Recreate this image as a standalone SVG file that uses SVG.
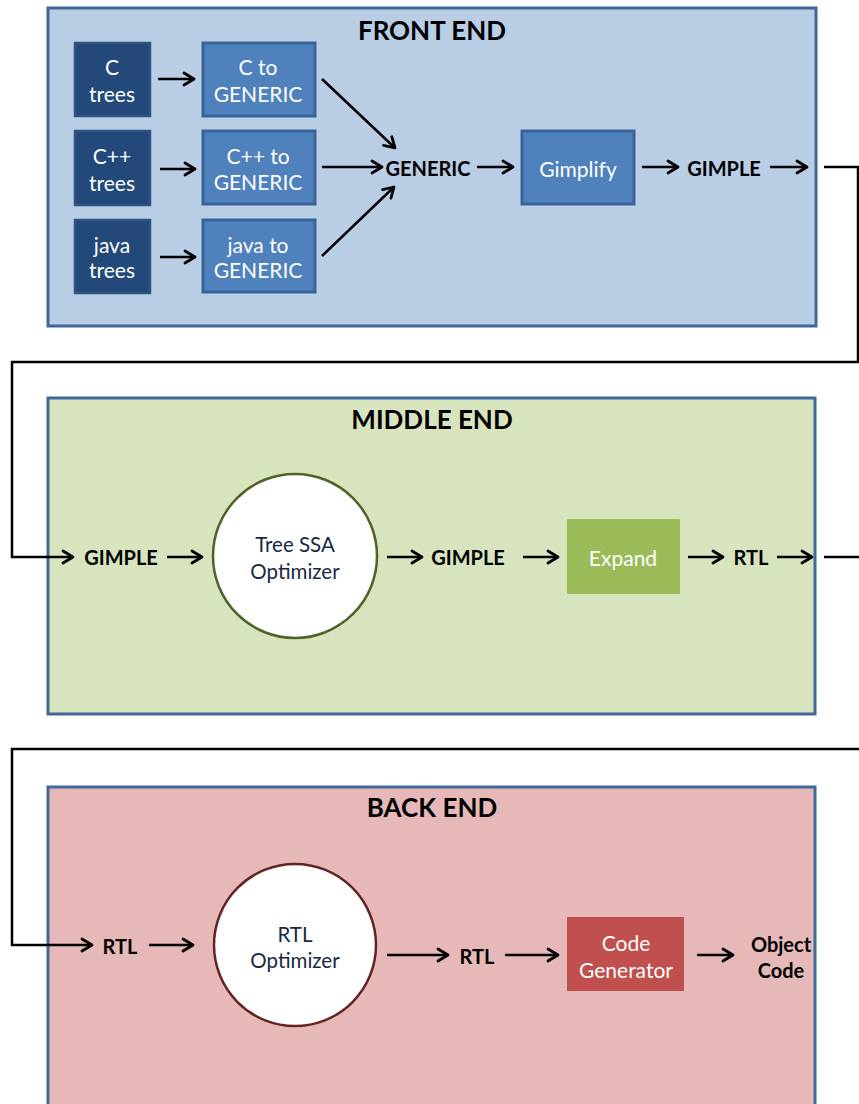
<svg xmlns="http://www.w3.org/2000/svg" width="859" height="1104" viewBox="0 0 859 1104">
<style>
.panel{stroke:#41689B;stroke-width:3}
.title{font-family:Lato,"Liberation Sans",sans-serif;font-weight:bold;font-size:26px;fill:#000;text-anchor:middle}
.lbl{font-family:Lato,"Liberation Sans",sans-serif;font-weight:bold;font-size:20px;fill:#000;text-anchor:middle;dominant-baseline:central}
.btxt{font-family:Lato,"Liberation Sans",sans-serif;font-size:21px;fill:#fff;text-anchor:middle;dominant-baseline:central}
.ctxt{font-family:Lato,"Liberation Sans",sans-serif;font-size:20.5px;fill:#1a2a40;text-anchor:middle;dominant-baseline:central}
.dark{fill:#23497B;stroke:#2F5584;stroke-width:2.5}
.mid{fill:#4F81BD;stroke:#3A6399;stroke-width:3}
.conn{fill:none;stroke:#000;stroke-width:2.5}
</style>
<defs>
<marker id="ah" markerUnits="userSpaceOnUse" markerWidth="16" markerHeight="16" viewBox="0 0 16 16" refX="13" refY="8" orient="auto">
<path d="M3,2 L13,8 L3,14" fill="none" stroke="#000" stroke-width="2.8" stroke-linecap="round" stroke-linejoin="round"/>
</marker>
</defs>

<g id="front-end">
<rect class="panel" x="48" y="8" width="768" height="318" fill="#B9CDE5"/>
<text class="title" x="432" y="40">FRONT END</text>
</g>
<g id="middle-end">
<rect class="panel" x="48" y="398" width="767" height="316" fill="#D7E4BD"/>
<text class="title" x="432" y="429">MIDDLE END</text>
</g>
<g id="back-end">
<rect class="panel" x="48" y="787" width="767" height="330" fill="#E6B9B8"/>
<text class="title" x="432" y="817">BACK END</text>
</g>

<g id="c-trees"><rect class="dark" x="75" y="43" width="75" height="73"/><text class="btxt" x="112" y="66">C</text><text class="btxt" x="112" y="93">trees</text></g>
<g id="cpp-trees"><rect class="dark" x="75" y="131" width="75" height="74"/><text class="btxt" x="112" y="155">C++</text><text class="btxt" x="112" y="182">trees</text></g>
<g id="java-trees"><rect class="dark" x="75" y="220" width="75" height="73"/><text class="btxt" x="112" y="244">java</text><text class="btxt" x="112" y="269">trees</text></g>

<g id="c-to-generic"><rect class="mid" x="203" y="43" width="112" height="73"/><text class="btxt" x="258" y="66">C to</text><text class="btxt" x="258" y="93">GENERIC</text></g>
<g id="cpp-to-generic"><rect class="mid" x="203" y="131" width="112" height="73"/><text class="btxt" x="258" y="155">C++ to</text><text class="btxt" x="258" y="181">GENERIC</text></g>
<g id="java-to-generic"><rect class="mid" x="203" y="220" width="112" height="72"/><text class="btxt" x="258" y="244">java to</text><text class="btxt" x="258" y="269">GENERIC</text></g>

<g id="generic"><text class="lbl" x="428" y="168">GENERIC</text></g>
<g id="gimplify"><rect class="mid" x="522" y="131" width="112" height="73"/><text class="btxt" x="578" y="168">Gimplify</text></g>
<g id="gimple-1"><text class="lbl" x="724" y="168">GIMPLE</text></g>

<g id="gimple-2"><text class="lbl" x="121" y="557">GIMPLE</text></g>
<g id="tree-ssa"><circle cx="295" cy="556" r="82" fill="#fff" stroke="#4F6228" stroke-width="2.5"/><text class="ctxt" x="295" y="544">Tree SSA</text><text class="ctxt" x="295" y="571">Optimizer</text></g>
<g id="gimple-3"><text class="lbl" x="468" y="557">GIMPLE</text></g>
<g id="expand"><rect x="567" y="519" width="113" height="75" rx="1" fill="#9BBB59"/><text class="btxt" x="623" y="557">Expand</text></g>
<g id="rtl-1"><text class="lbl" x="751" y="557">RTL</text></g>

<g id="rtl-2"><text class="lbl" x="120" y="946">RTL</text></g>
<g id="rtl-optimizer"><circle cx="295" cy="945" r="81" fill="#fff" stroke="#632523" stroke-width="2.5"/><text class="ctxt" x="295" y="934">RTL</text><text class="ctxt" x="295" y="960">Optimizer</text></g>
<g id="rtl-3"><text class="lbl" x="477" y="956">RTL</text></g>
<g id="code-generator"><rect x="567" y="917" width="117" height="74" fill="#C0504D"/><text class="btxt" x="626" y="942">Code</text><text class="btxt" x="626" y="969">Generator</text></g>
<g id="object-code"><text class="lbl" x="781" y="944">Object</text><text class="lbl" x="781" y="970">Code</text></g>

<g id="connectors">
<line class="conn" x1="158" y1="79" x2="194" y2="79" marker-end="url(#ah)"/>
<line class="conn" x1="160" y1="169" x2="195" y2="169" marker-end="url(#ah)"/>
<line class="conn" x1="160" y1="257" x2="195" y2="257" marker-end="url(#ah)"/>
<line class="conn" x1="322" y1="79" x2="395" y2="148" marker-end="url(#ah)"/>
<line class="conn" x1="322" y1="167" x2="382" y2="167" marker-end="url(#ah)"/>
<line class="conn" x1="322" y1="256" x2="394" y2="187" marker-end="url(#ah)"/>
<line class="conn" x1="477" y1="167" x2="513" y2="167" marker-end="url(#ah)"/>
<line class="conn" x1="642" y1="167" x2="678" y2="167" marker-end="url(#ah)"/>
<line class="conn" x1="770" y1="167" x2="807" y2="167" marker-end="url(#ah)"/>
<path class="conn" d="M824,167 H858 V362 H12 V557 H73" marker-end="url(#ah)"/>
<line class="conn" x1="167" y1="557" x2="202" y2="557" marker-end="url(#ah)"/>
<line class="conn" x1="387" y1="557" x2="422" y2="557" marker-end="url(#ah)"/>
<line class="conn" x1="523" y1="557" x2="558" y2="557" marker-end="url(#ah)"/>
<line class="conn" x1="688" y1="557" x2="723" y2="557" marker-end="url(#ah)"/>
<line class="conn" x1="777" y1="557" x2="812" y2="557" marker-end="url(#ah)"/>
<path class="conn" d="M824,557 H875 V749 H12 V945 H92" marker-end="url(#ah)"/>
<line class="conn" x1="149" y1="945" x2="193" y2="945" marker-end="url(#ah)"/>
<line class="conn" x1="387" y1="955" x2="448" y2="955" marker-end="url(#ah)"/>
<line class="conn" x1="505" y1="955" x2="558" y2="955" marker-end="url(#ah)"/>
<line class="conn" x1="697" y1="955" x2="733" y2="955" marker-end="url(#ah)"/>
</g>
</svg>
